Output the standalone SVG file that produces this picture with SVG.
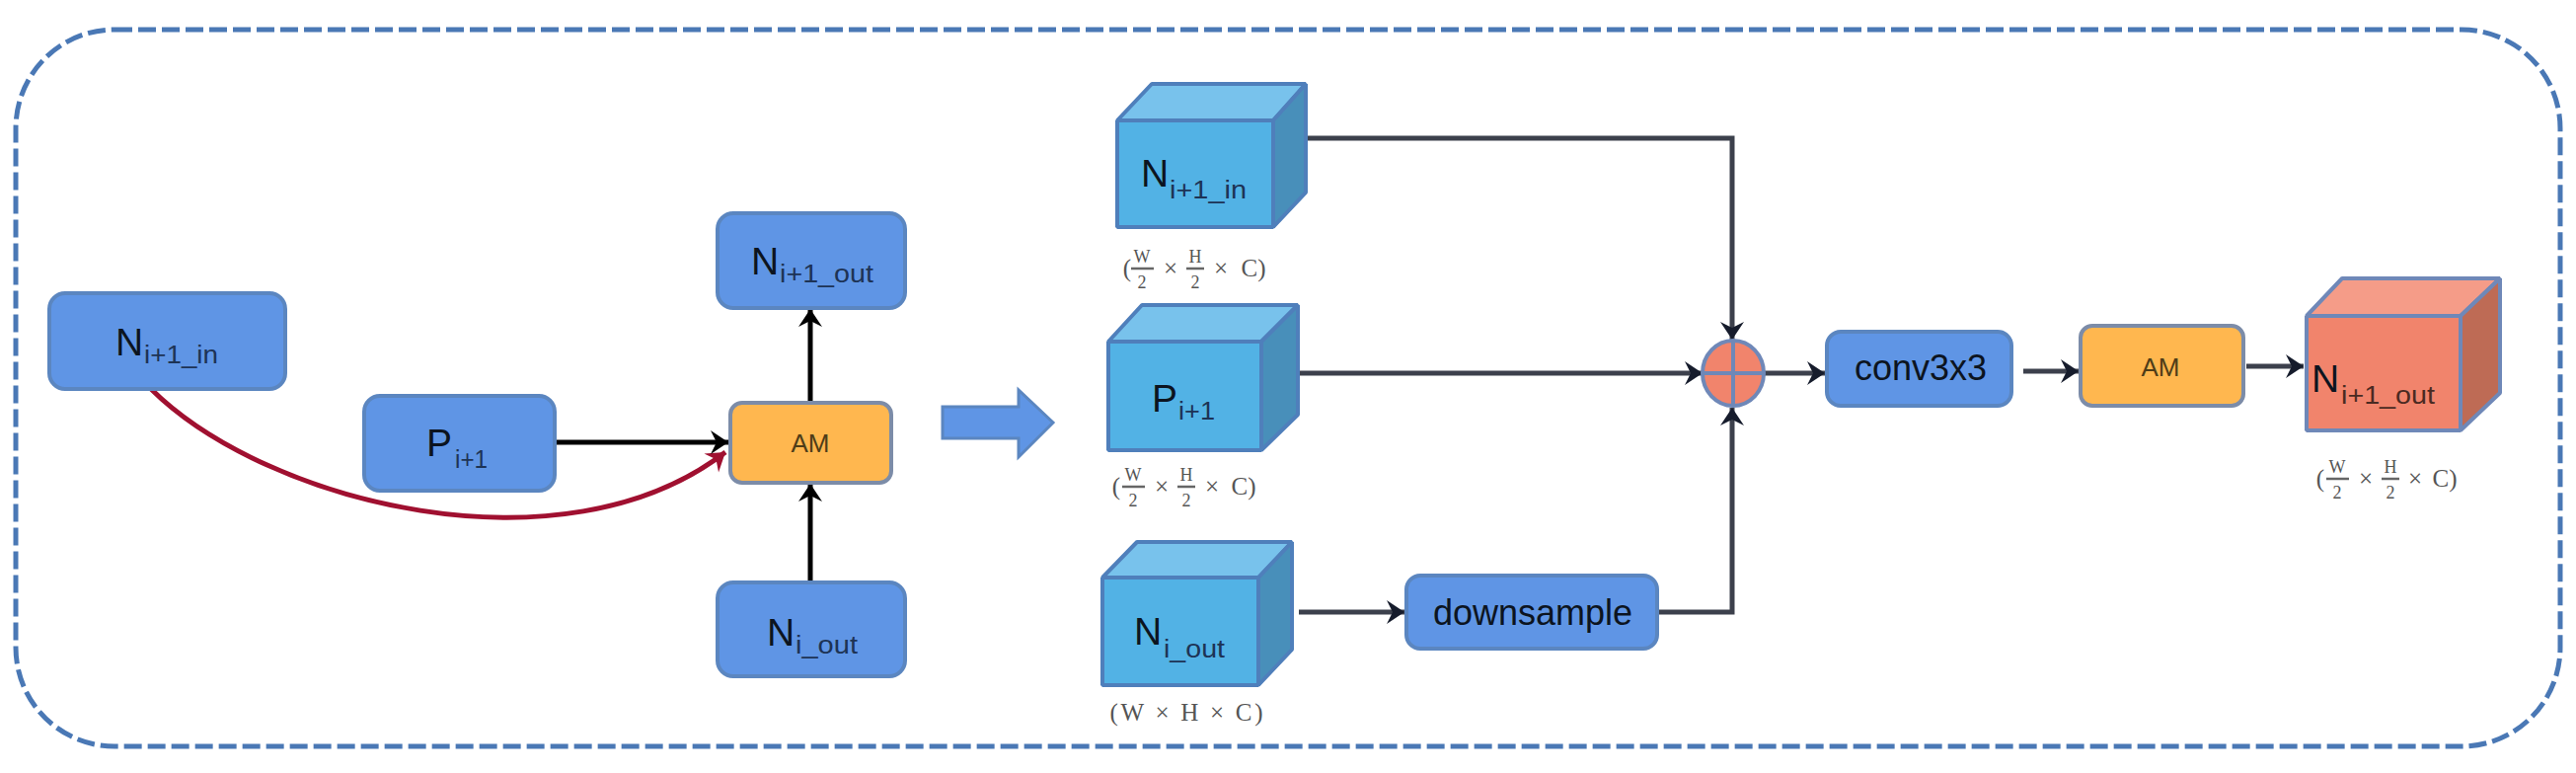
<svg xmlns="http://www.w3.org/2000/svg" width="2610" height="783" viewBox="0 0 2610 783">
<style>
text{font-family:"Liberation Sans",Arial,sans-serif;fill:#0c1420}
.box{fill:#5f95e5;stroke:#5b86c0;stroke-width:4}
.am{fill:#ffb74f;stroke:#7c8ca8;stroke-width:4}
.front{fill:#52b2e5}.top{fill:#78c2ec}.side{fill:#488fba}
.cube{stroke:#4f7fbb;stroke-width:4;stroke-linejoin:bevel}
.rfront{fill:#f1846c}.rtop{fill:#f59c88}.rside{fill:#be6b55}
.rcube{stroke:#6f88b8;stroke-width:4;stroke-linejoin:bevel}
.main{font-size:39px}.sub{font-size:25px;fill:#1d3355}
.am-t{font-size:26px;text-anchor:middle;fill:#4f3d18}
.lbl{font-size:36px;text-anchor:middle}
.cap text{font-family:"Liberation Serif","Times New Roman",serif;fill:#555;font-size:25px;text-anchor:middle}
.cap text.fr{font-size:18px}
.cap line{stroke:#666;stroke-width:2.5}
.k{fill:none;stroke:#000;stroke-width:5}
.d{fill:none;stroke:#3c404c;stroke-width:5}
</style>
<defs>
<marker id="ak" markerUnits="userSpaceOnUse" markerWidth="24" markerHeight="28" refX="20" refY="14" orient="auto" overflow="visible"><path d="M2,2 L20,14 L2,26 L8,14 Z" fill="#000"/></marker>
<marker id="ad" markerUnits="userSpaceOnUse" markerWidth="24" markerHeight="28" refX="20" refY="14" orient="auto" overflow="visible"><path d="M2,2 L20,14 L2,26 L8,14 Z" fill="#161c2c"/></marker>
<marker id="ar" markerUnits="userSpaceOnUse" markerWidth="24" markerHeight="28" refX="20" refY="14" orient="auto" overflow="visible"><path d="M2,2 L20,14 L2,26 L8,14 Z" fill="#a01030"/></marker>
</defs>
<rect id="frame" x="16" y="30" width="2578" height="726" rx="100" ry="100" fill="none" stroke="#4a78b5" stroke-width="5" stroke-dasharray="18 6"/>
<g id="connectors">
<path id="c-in-am" d="M153,394 C270,510 570,585 735,458" fill="none" stroke="#a01030" stroke-width="5" marker-end="url(#ar)"/>
<path class="k" d="M562,448 L738,448" marker-end="url(#ak)"/>
<path class="k" d="M821,407 L821,313" marker-end="url(#ak)"/>
<path class="k" d="M821,590 L821,490" marker-end="url(#ak)"/>
<path class="d" d="M1323,140 L1755,140 L1755,344" marker-end="url(#ad)"/>
<path class="d" d="M1315,378 L1725,378" marker-end="url(#ad)"/>
<path class="d" d="M1316,620 L1423,620" marker-end="url(#ad)"/>
<path class="d" d="M1679,620 L1755,620 L1755,413" marker-end="url(#ad)"/>
<path class="d" d="M1788,378 L1849,378" marker-end="url(#ad)"/>
<path class="d" d="M2050,376 L2106,376" marker-end="url(#ad)"/>
<path class="d" d="M2276,371 L2334,371" marker-end="url(#ad)"/>
</g>
<g id="n-in"><rect class="box" x="50" y="297" width="239" height="97" rx="16"/><text class="main" x="117" y="360">N</text><text class="sub" x="146" y="368" textLength="75" lengthAdjust="spacingAndGlyphs">i+1_in</text></g>
<g id="p"><rect class="box" x="369" y="401" width="193" height="96" rx="16"/><text class="main" x="432" y="462">P</text><text class="sub" x="461" y="474" textLength="33" lengthAdjust="spacingAndGlyphs">i+1</text></g>
<g id="am1"><rect class="am" x="740" y="408" width="163" height="81" rx="12"/><text class="am-t" x="821" y="458">AM</text></g>
<g id="n-out-box"><rect class="box" x="727" y="216" width="190" height="96" rx="16"/><text class="main" x="761" y="278">N</text><text class="sub" x="790" y="286" textLength="95" lengthAdjust="spacingAndGlyphs">i+1_out</text></g>
<g id="n-i-box"><rect class="box" x="727" y="590" width="190" height="95" rx="16"/><text class="main" x="777" y="654">N</text><text class="sub" x="806" y="662" textLength="63" lengthAdjust="spacingAndGlyphs">i_out</text></g>
<path id="big-arrow" d="M955,412 L1032,412 L1032,395 L1067,428 L1032,463 L1032,444 L955,444 Z" fill="#5f95e5" stroke="#5b86c0" stroke-width="3"/>
<g id="cube-n-in">
<path class="top cube" d="M1132,122 L1167,85 L1323,85 L1290,122 Z"/>
<path class="side cube" d="M1290,122 L1323,85 L1323,195 L1290,230 Z"/>
<rect class="front cube" x="1132" y="122" width="158" height="108"/>
<text class="main" x="1156" y="189">N</text><text class="sub" x="1185" y="201" textLength="78" lengthAdjust="spacingAndGlyphs">i+1_in</text>
</g>
<g id="cube-p">
<path class="top cube" d="M1123,346 L1157,309 L1315,309 L1278,346 Z"/>
<path class="side cube" d="M1278,346 L1315,309 L1315,420 L1278,456 Z"/>
<rect class="front cube" x="1123" y="346" width="155" height="110"/>
<text class="main" x="1167" y="417">P</text><text class="sub" x="1194" y="425" textLength="37" lengthAdjust="spacingAndGlyphs">i+1</text>
</g>
<g id="cube-n-i">
<path class="top cube" d="M1117,585 L1152,549 L1309,549 L1275,585 Z"/>
<path class="side cube" d="M1275,585 L1309,549 L1309,658 L1275,694 Z"/>
<rect class="front cube" x="1117" y="585" width="158" height="109"/>
<text class="main" x="1149" y="653">N</text><text class="sub" x="1179" y="666" textLength="62" lengthAdjust="spacingAndGlyphs">i_out</text>
</g>
<g class="cap" transform="translate(1138,272)"><text x="4" y="8">(</text><text class="fr" x="19" y="-6">W</text><line x1="8" x2="31" y1="0" y2="0"/><text class="fr" x="19" y="20">2</text><text x="48" y="8">×</text><text class="fr" x="73" y="-6">H</text><line x1="64" x2="82" y1="0" y2="0"/><text class="fr" x="73" y="20">2</text><text x="99" y="8">×</text><text x="132" y="8">C)</text></g>
<g class="cap" transform="translate(1127,493)"><text x="4" y="8">(</text><text class="fr" x="21" y="-6">W</text><line x1="10" x2="33" y1="0" y2="0"/><text class="fr" x="21" y="20">2</text><text x="50" y="8">×</text><text class="fr" x="75" y="-6">H</text><line x1="66" x2="84" y1="0" y2="0"/><text class="fr" x="75" y="20">2</text><text x="101" y="8">×</text><text x="133" y="8">C)</text></g>
<g class="cap" transform="translate(2347,485)"><text x="4" y="8">(</text><text class="fr" x="21" y="-6">W</text><line x1="10" x2="33" y1="0" y2="0"/><text class="fr" x="21" y="20">2</text><text x="50" y="8">×</text><text class="fr" x="75" y="-6">H</text><line x1="66" x2="84" y1="0" y2="0"/><text class="fr" x="75" y="20">2</text><text x="100" y="8">×</text><text x="130" y="8">C)</text></g>
<g class="cap"><text x="1202" y="730" textLength="155" lengthAdjust="spacing">(W × H × C)</text></g>
<g id="add"><ellipse cx="1756" cy="378" rx="31" ry="33" fill="#f1846c" stroke="#6f88b8" stroke-width="4"/><path d="M1756,345 V411 M1725,378 H1787" stroke="#6f88b8" stroke-width="4" fill="none"/></g>
<g id="conv"><rect class="box" x="1851" y="336" width="187" height="75" rx="14"/><text class="lbl" x="1946" y="385">conv3x3</text></g>
<g id="down"><rect class="box" x="1425" y="583" width="254" height="74" rx="14"/><text class="lbl" x="1553" y="633">downsample</text></g>
<g id="am2"><rect class="am" x="2108" y="330" width="165" height="81" rx="12"/><text class="am-t" x="2189" y="381">AM</text></g>
<g id="cube-out">
<path class="rtop rcube" d="M2337,320 L2373,282 L2533,282 L2493,320 Z"/>
<path class="rside rcube" d="M2493,320 L2533,282 L2533,398 L2493,436 Z"/>
<rect class="rfront rcube" x="2337" y="320" width="156" height="116"/>
<text class="main" x="2342" y="397">N</text><text class="sub" x="2372" y="409" textLength="95" lengthAdjust="spacingAndGlyphs" style="fill:#4a2a22">i+1_out</text>
</g>
</svg>
